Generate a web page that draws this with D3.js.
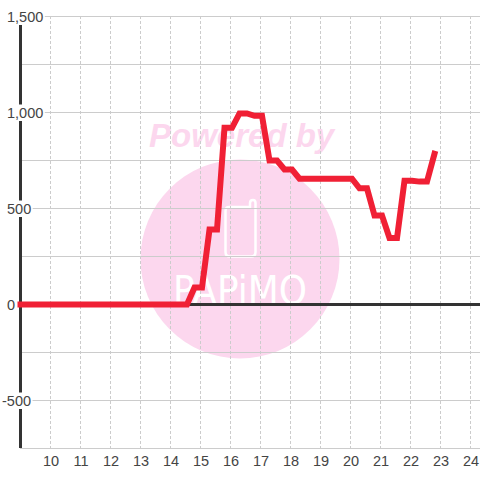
<!DOCTYPE html>
<html>
<head>
<meta charset="utf-8">
<script src="https://cdn.jsdelivr.net/npm/d3@7"></script>
<style>
html, body { margin: 0; padding: 0; background: #fff; }
svg { display: block; font-family: "Liberation Sans", Arial, sans-serif; }
</style>
</head>
<body>
<svg id="chart" width="480" height="480"></svg>
<script>
// one value every quarter of an hour, starting just after 9:00
var startHour = 9;
var sampleOffset = 0.05;
var values = [
	0, 0, 0, 0, 0, 0, 0, 0, 0, 0, 0, 0,
	0, 0, 0, 0, 0, 0, 0, 0, 0, 0, 0, 88,
	88, 390, 390, 920, 920, 995, 995, 983, 983, 750,
	750, 703, 703, 655, 655, 655, 655, 655, 655, 655,
	655, 605, 605, 463, 463, 346, 346, 645, 645, 640,
	640, 785
];
var xTicks = [10, 11, 12, 13, 14, 15, 16, 17, 18, 19, 20, 21, 22, 23, 24];
var yLabelTicks = [1500, 1000, 500, 0, -500];
var yGridTicks = [1500, 1250, 1000, 750, 500, 250, 0, -250, -500, -750];

var svg = d3.select('#chart');

var x = d3.scaleLinear().domain([9, 24]).range([20.5, 470.5]);
var y = d3.scaleLinear().domain([-750, 1500]).range([448.5, 16.5]);

// Watermark goes below the grid
var mark = svg.append('g');
mark.append('circle').attr('cx', 240).attr('cy', 259).attr('r', 99.5).attr('fill', '#fcd7ee');
mark.append('text')
	.attr('x', 149).attr('y', 147)
	.attr('font-size', 33).attr('font-weight', 'bold').attr('font-style', 'italic')
	.attr('fill', '#fcd7ee')
	.text('Powered by');
mark.append('path')
	.attr('d', 'M229 207H250V203Q250 200 253 200Q255.5 200 255.5 203V252Q255.5 256.5 251 256.5H230Q225.5 256.5 225.5 252V211Q225.5 207 229 207Z')
	.attr('fill', 'none').attr('stroke', '#fff').attr('stroke-width', 2.5);
mark.append('text')
	.attr('transform', 'translate(173,304) scale(1,1.4)')
	.attr('font-size', 28)
	.attr('font-family', 'DejaVu Sans')
	.attr('textLength', 134)
	.attr('lengthAdjust', 'spacingAndGlyphs')
	.attr('fill', '#fff')
	.text('PAPiMO');

// Grid
svg.append('g').selectAll('line').data(yGridTicks).join('line')
	.attr('x1', 20).attr('x2', 480)
	.attr('y1', function(d) { return y(d); })
	.attr('y2', function(d) { return y(d); })
	.attr('stroke', '#ccc');

svg.append('g').selectAll('line').data(xTicks).join('line')
	.attr('x1', function(d) { return x(d); })
	.attr('x2', function(d) { return x(d); })
	.attr('y1', 16).attr('y2', 448)
	.attr('stroke', '#ccc')
	.attr('stroke-dasharray', '3,2');

// Axis lines
svg.append('line')
	.attr('x1', x(9)).attr('x2', x(9))
	.attr('y1', 16).attr('y2', 448)
	.attr('stroke', '#333').attr('stroke-width', 3);
svg.append('line')
	.attr('x1', x(9)).attr('x2', 480)
	.attr('y1', y(0)).attr('y2', y(0))
	.attr('stroke', '#333').attr('stroke-width', 3);

// Tick labels sit on white boxes that cut the grid and the axis
var yLabels = svg.append('g').selectAll('g').data(yLabelTicks).join('g');

yLabels.append('text')
	.attr('x', function(d) { return d < 0 ? 2 : 7; })
	.attr('y', function(d) { return y(d) + 5.5; })
	.attr('font-size', 14.5)
	.attr('fill', '#444')
	.text(function(d) { return d < 0 ? '-' + d3.format(',')(-d) : d3.format(',')(d); });

yLabels.insert('rect', 'text')
	.each(function() {
		var box = this.parentNode.querySelector('text').getBBox();
		d3.select(this)
			.attr('x', box.x)
			.attr('width', box.width + 1.5)
			.attr('y', box.y + box.height / 2 - 8.5)
			.attr('height', 16.5);
	})
	.attr('fill', '#fff');

svg.append('g').selectAll('text').data(xTicks).join('text')
	.attr('x', function(d) { return x(d) + 0.5; })
	.attr('y', 466)
	.attr('text-anchor', 'middle')
	.attr('font-size', 14.5)
	.attr('fill', '#444')
	.text(function(d) { return d; });

// Series
var line = d3.line()
	.x(function(d, i) { return x(startHour + (i ? sampleOffset : 0) + i * 0.25); })
	.y(function(d) { return y(d); });

svg.append('path')
	.datum(values)
	.attr('d', line)
	.attr('fill', 'none')
	.attr('stroke', '#f02035')
	.attr('stroke-width', 6)
	.attr('stroke-linecap', 'square');
</script>
</body>
</html>
